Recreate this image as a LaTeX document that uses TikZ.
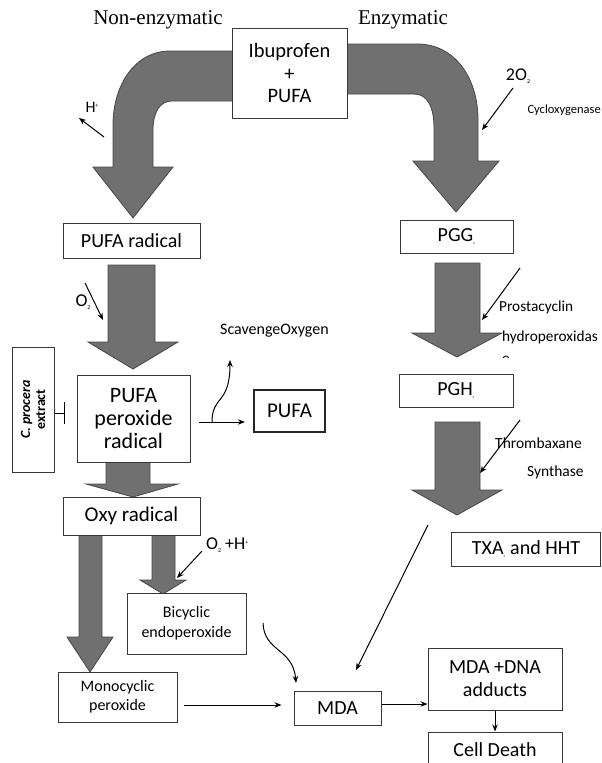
\documentclass[tikz,border=0pt]{standalone}
\usepackage{fontspec}
\setmainfont{Carlito}
\newfontfamily\seriff{Liberation Serif}
\usetikzlibrary{arrows.meta}
\definecolor{arrfill}{RGB}{112,112,112}
\definecolor{arrdraw}{RGB}{70,70,70}
\definecolor{boxdraw}{RGB}{55,55,55}
\newcommand\fs[1]{\fontsize{#1}{#1}\selectfont}
\newcommand\tsub[1]{\raisebox{-3pt}{\fs{6}#1}}
\newcommand\tsup[1]{\raisebox{5pt}{\fs{6}#1}}
\begin{document}
\begin{tikzpicture}[x=1pt,y=-1pt,
  box/.style={draw=boxdraw, line width=1pt, fill=white, inner sep=0pt, align=center},
  blk/.style={fill=arrfill, draw=arrdraw, line width=0.8pt, line join=miter},
  thinarr/.style={-{Stealth[length=7pt,width=5.5pt]}, line width=1pt},
  lab/.style={inner sep=0pt, anchor=west}]
\useasboundingbox (0,0) rectangle (602,763);
% block arrows
\draw[blk] (240,51) -- (170,51) .. controls (135,51) and (113,85) .. (113,125) -- (113,167) -- (93,167) -- (133,218) -- (173,167) -- (153,167) -- (153,130) .. controls (153,112) and (160,101) .. (172,101) -- (240,101) -- cycle;
\draw[blk] (340,44) -- (417,44) .. controls (455,44) and (478,78) .. (478,120) -- (478,161) -- (499,161) -- (456,212) -- (413,161) -- (434,161) -- (434,128) .. controls (434,108) and (428,94) .. (414,94) -- (340,94) -- cycle;
\draw[blk] (108,265) -- (155,265) -- (155,342) -- (178,342) -- (133,369) -- (88,342) -- (108,342) -- cycle;
\draw[blk] (106,455) -- (150,455) -- (150,484) -- (178,484) -- (133,497) -- (86,484) -- (106,484) -- cycle;
\draw[blk] (79,530) -- (102,530) -- (102,637) -- (113,637) -- (90,672) -- (67,637) -- (79,637) -- cycle;
\draw[blk] (152,530) -- (175,530) -- (175,580) -- (186,580) -- (163,594) -- (140,580) -- (152,580) -- cycle;
\draw[blk] (435,263) -- (480,263) -- (480,333) -- (502,333) -- (457,357) -- (412,333) -- (435,333) -- cycle;
\draw[blk] (435,422) -- (480,422) -- (480,490) -- (502,490) -- (457,515) -- (412,490) -- (435,490) -- cycle;
% boxes
\node[box, minimum width=115pt, minimum height=90pt, font=\fs{20.5}, align=center] (ibu) at (289.5,73) {Ibuprofen\\[2pt]+\\[2pt]PUFA};
\node[box, minimum width=137pt, minimum height=35pt, font=\fs{20}] (pr) at (131.5,240.5) {PUFA radical};
\node[box, minimum width=113pt, minimum height=33pt, font=\fs{20}] (pgg) at (456.5,236.5) {PGG\textsubscript{\fs{3}2}};
\node[box, minimum width=113pt, minimum height=87pt, font=\fs{22}] (per) at (133.5,418.5) {PUFA\\[1pt]peroxide\\[1pt]radical};
\node[box, line width=2.2pt, draw=black!85, minimum width=71pt, minimum height=42pt, font=\fs{21}] (pufa) at (289.5,411) {PUFA};
\node[box, minimum width=42pt, minimum height=125pt] (cp) at (33,409.5) {};
\node[rotate=90, align=center, font=\bfseries\fs{14}, inner sep=0pt] (cpt) at (cp.center) {\textit{C. procera}\\[1pt]extract};
\node[box, minimum width=114pt, minimum height=33pt, font=\fs{20}] (pgh) at (456,390.5) {PGH\textsubscript{\fs{3}2}};
\node[box, minimum width=137pt, minimum height=38pt, font=\fs{21}] (oxy) at (131.5,516) {Oxy radical};
\node[box, minimum width=119pt, minimum height=61pt, font=\fs{16}] (bic) at (186.5,623.5) {Bicyclic\\[4pt]endoperoxide};
\node[box, minimum width=149pt, minimum height=34pt, font=\fs{20}] (txa) at (526,549) {TXA\textsubscript{\fs{3}2} and HHT};
\node[box, minimum width=119pt, minimum height=50pt, font=\fs{16}] (mono) at (117.5,697) {Monocyclic\\[3pt]peroxide};
\node[box, minimum width=87pt, minimum height=34pt, font=\fs{20}] (mda) at (337.5,708) {MDA};
\node[box, minimum width=134pt, minimum height=62pt, font=\fs{20}] (dna) at (495,679) {MDA +DNA\\[3pt]adducts};
\node[box, minimum width=134pt, minimum height=36pt, font=\fs{20}, text depth=0pt] (cell) at (495,750) {Cell Death};
% labels
\node[font=\seriff\fs{21}] (ne) at (158,20) {Non-enzymatic};
\node[font=\seriff\fs{21}] (en) at (403,20) {Enzymatic};
\node[font=\fs{16}] (hp) at (92,107) {H\tsup{+}};
\node[font=\fs{18}] (o2a) at (518,76) {2O\tsub{2}};
\node[font=\fs{12.5}, inner sep=0pt, anchor=east] (cyc) at (601,110) {Cycloxygenase};
\node[font=\fs{18}] (o2b) at (83,302) {O\tsub{2}};
\node[lab, font=\fs{16}] (sc) at (220,331) {ScavengeOxygen};
\node[lab, font=\fs{15.3}] (pro) at (499,307) {Prostacyclin};
\node[lab, font=\fs{15.3}] (hyd) at (502,337) {hydroperoxidas};
\begin{scope}
\clip (495,349) rectangle (520,357);
\node[lab, font=\fs{15.3}] (hyde) at (502,360) {e};
\end{scope}
\node[lab, font=\fs{15.5}] (thr) at (495,443) {Thrombaxane};
\node[lab, font=\fs{15.5}] (syn) at (527,472) {Synthase};
\node[lab, font=\fs{18}] (o2h) at (206,545) {O\tsub{2} +H\tsup{+}};
% thin arrows
\coordinate (h1) at (104,137); \coordinate (h2) at (79,118);
\draw[thinarr] (h1) -- (h2);
\coordinate (c1) at (513,88); \coordinate (c2) at (482,130);
\draw[thinarr] (c1) -- (c2);
\coordinate (o1) at (85,283); \coordinate (o2) at (103,320);
\draw[thinarr] (o1) -- (o2);
\coordinate (q1) at (202,551); \coordinate (q2) at (177,578);
\draw[thinarr] (q1) -- (q2);
\coordinate (p1) at (520,268); \coordinate (p2) at (482,320);
\draw[thinarr] (p1) -- (p2);
\coordinate (t1) at (520,420); \coordinate (t2) at (480,473);
\draw[thinarr] (t1) -- (t2);
\coordinate (sA) at (199,422);
\draw[thinarr, shorten >=8pt] (sA) -- (sA -| pufa.west);
\coordinate (sB) at (212,422); \coordinate (sC) at (230,360);
\draw[thinarr] (sB) .. controls (212,395) and (230,405) .. (sC);
\coordinate (inh) at (65,413);
\draw[line width=1pt, -{Bar[width=22pt, line width=1.2pt]}] (cp.east |- inh) -- (inh);
\coordinate (b1) at (263,623); \coordinate (b2) at (296,683);
\draw[thinarr] (b1) .. controls (264,652) and (293,648) .. (b2);
\coordinate (l1) at (428,525); \coordinate (l2) at (356,670);
\draw[thinarr] (l1) -- (l2);
\coordinate (m1) at (184,705);
\draw[thinarr, shorten >=12pt] (m1) -- (m1 -| mda.west);
\draw[thinarr] (mda.east |- 0,704) -- (dna.west |- 0,704);
\draw[thinarr] (dna.south) -- (cell.north);
\end{tikzpicture}
\end{document}
